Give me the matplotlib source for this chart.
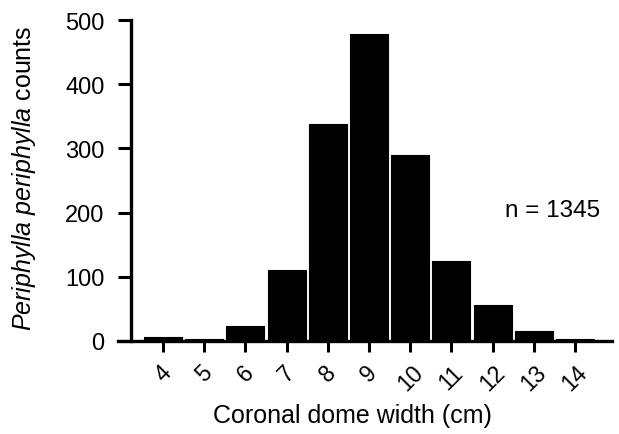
import matplotlib.pyplot as plt

plt.rcParams['font.family'] = 'Liberation Sans'
plt.rcParams['mathtext.fontset'] = 'custom'
plt.rcParams['mathtext.rm'] = 'Liberation Sans'
plt.rcParams['mathtext.it'] = 'Liberation Sans:italic'

# dome width classes (cm) and counts
dome_width = [4, 5, 6, 7, 8, 9, 10, 11, 12, 13, 14]
counts = [6, 3, 23, 111, 338, 478, 290, 125, 56, 15, 3]
y_ticks = [0, 100, 200, 300, 400, 500]
n_label = 'n = 1345'

fig = plt.figure(figsize=(6.19, 4.35), dpi=100)
ax = fig.add_axes([118 / 619, 93 / 435, 494 / 619, 321 / 435])

ax.bar(dome_width, counts, width=0.92, color='black', edgecolor='black',
       linewidth=0.8, joinstyle='round')

ax.set_xlim(2.908, 14.898)
ax.set_ylim(0, 500)

for side in ['top', 'right']:
    ax.spines[side].set_visible(False)
ax.spines['left'].set_position(('data', 3.235))
ax.spines['left'].set_bounds(0, 500)
ax.spines['left'].set_linewidth(2.4)
ax.spines['bottom'].set_linewidth(2.4)

ax.set_yticks(y_ticks)
ax.set_xticks(dome_width)
ax.set_xticklabels([str(w) for w in dome_width], rotation=45, ha='center',
                   fontsize=16.5)
ax.tick_params(axis='y', length=9.4, width=2.2, labelsize=17, pad=10)
ax.tick_params(axis='x', length=8, width=2.2, pad=6)

ax.set_xlabel('Coronal dome width (cm)', fontsize=18)
ax.xaxis.set_label_coords(0.474, -0.194)
ax.set_ylabel(r'$\it{Periphylla\ periphylla}$ counts', fontsize=18)
ax.yaxis.set_label_coords(-0.162, 0.511)

ax.text(12.3, 195, n_label, fontsize=17.5, ha='left', va='baseline')

plt.savefig('out.png', dpi=100)
